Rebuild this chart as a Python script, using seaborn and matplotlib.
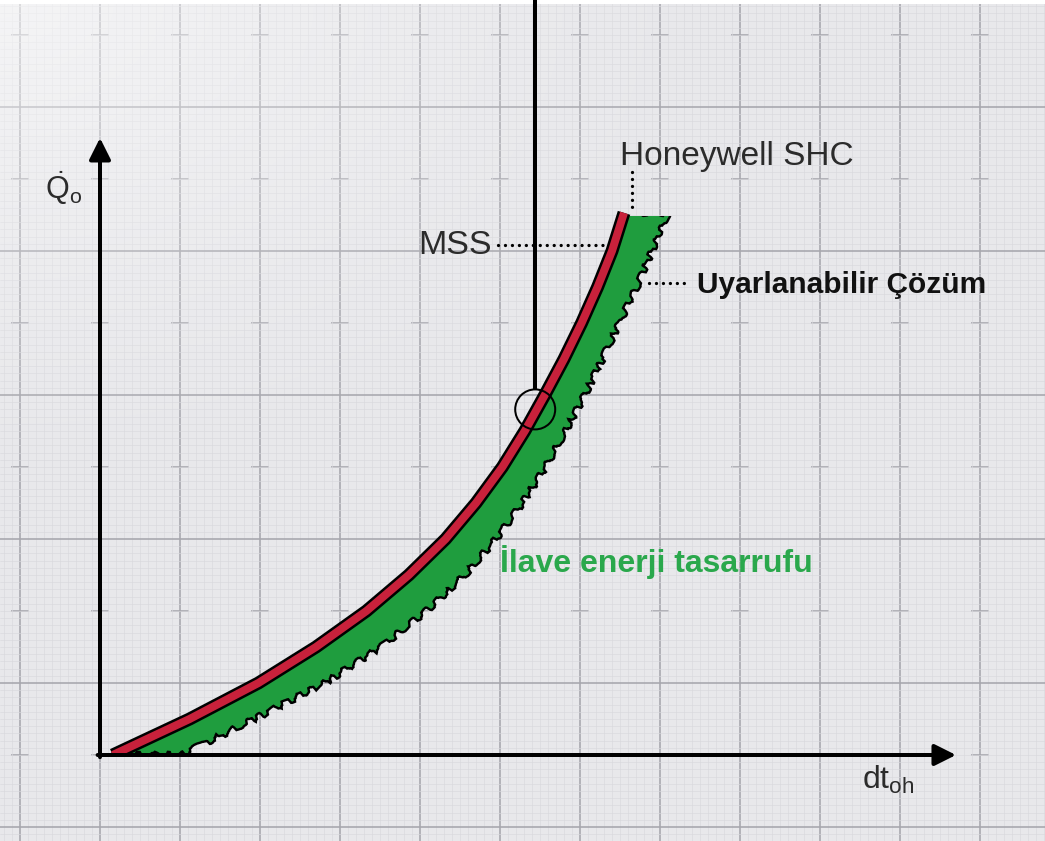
import numpy as np
import matplotlib
matplotlib.use("Agg")
import matplotlib.pyplot as plt
import seaborn as sns
from matplotlib.patches import Polygon, Rectangle, Ellipse

# ---- data (dt_oh on x, Q_o on y; one unit = one grid cell) ----
# MSS characteristic (centre of the red band)
mss_q = [0.0, 0.5, 1.0, 1.5, 2.0, 2.5, 3.0, 3.5, 4.0, 4.5, 5.0, 5.5, 6.0, 6.5, 7.0, 7.53]
mss_dt = [0.16, 1.12, 1.98, 2.70, 3.33, 3.86, 4.32, 4.70, 5.03, 5.31, 5.56, 5.80,
          6.02, 6.22, 6.40, 6.55]

# Adaptive solution (outer edge of the green band)
adapt_q = [0.0, 0.5, 1.0, 1.5, 2.0, 2.5, 3.0, 3.5, 4.0, 4.5, 5.0, 5.5, 6.0, 6.5, 7.0, 7.53]
adapt_dt = [1.01, 1.93, 2.81, 3.51, 4.08, 4.56, 4.95, 5.28, 5.57, 5.82, 6.06, 6.28,
            6.49, 6.71, 6.90, 7.10]

# operating point marked by the pointer and circle
point_dt = 5.44
point_q = 4.80

label_mss = "MSS"
label_honeywell = "Honeywell SHC"
label_adapt = "Uyarlanabilir Çözüm"
label_saving = "İlave enerji tasarrufu"
label_y = r"$\dot{\mathrm{Q}}_{\mathrm{o}}$"
label_x = r"dt$_{\mathrm{oh}}$"

# ---- styling ----
sns.set_theme(style="white")
plt.rcParams["font.family"] = ["Liberation Sans", "DejaVu Sans"]
plt.rcParams["mathtext.fontset"] = "custom"
plt.rcParams["mathtext.rm"] = "Liberation Sans"
plt.rcParams["mathtext.it"] = "Liberation Sans:italic"

PX = 0.72  # points per pixel at 100 dpi

paper = "#e8e8eb"
major_c = "#a7a7ad"
minor_c = "#d8d8dd"
red = "#c8213b"
green = "#1f9d3e"
text_green = "#2aa84c"
ink = "#2b2b2b"

fig = plt.figure(figsize=(10.45, 8.41), dpi=100)
ax = fig.add_axes([0, 0, 1, 1])
ax.set_xlim(-1.25, 11.8125)
ax.set_ylim(-86 / 72, 755 / 72)
ax.set_facecolor(paper)
for s in ax.spines.values():
    s.set_visible(False)

# graph paper: ticks drive the grid lines
ax.set_xticks(np.arange(-1, 12, 1))
ax.set_yticks(np.arange(-1, 11, 2))
ax.set_xticks(np.arange(-1.2, 11.9, 0.1), minor=True)
ax.set_yticks(np.arange(-1.1, 10.5, 0.1), minor=True)
ax.tick_params(which="both", length=0, labelbottom=False, labelleft=False)
ax.grid(which="minor", color=minor_c, linewidth=0.6 * PX, zorder=0)
ax.grid(which="major", color=major_c, linewidth=1.6 * PX, zorder=0)
ax.set_axisbelow(True)
# small crosses half-way between the horizontal major lines
cross_x = np.arange(-1, 12, 1)
for cy in np.arange(0, 11, 2):
    ax.hlines([cy] * len(cross_x), cross_x - 0.11, cross_x + 0.11,
              color=major_c, linewidth=1.6 * PX, zorder=0.5)

# soft light fade toward the upper-left corner of the sheet
gx, gy = np.meshgrid(np.linspace(0, 1, 200), np.linspace(0, 1, 200))
fade = np.clip(1 - np.hypot(gx * 1.3, (1 - gy) * 1.6), 0, 1) ** 1.5 * 0.55
overlay = np.ones((200, 200, 4))
overlay[..., 3] = fade
ax.imshow(overlay, extent=(-1.25, 11.8125, -86 / 72, 755 / 72), origin="lower",
          aspect="auto", zorder=0.8, interpolation="bilinear")
# thin white margin along the top edge of the sheet
ax.add_patch(Rectangle((0, 1 - 4 / 841), 1, 4 / 841, transform=ax.transAxes,
                       facecolor="white", edgecolor="none", zorder=0.9))

top_q = max(mss_q)
clip_band = Rectangle((-2, 0.03), 20, top_q - 0.03 - 0.05, transform=ax.transData)

# green band between the MSS curve and the adaptive edge
band = Polygon(list(zip(mss_dt, mss_q)) + list(zip(adapt_dt[::-1], adapt_q[::-1])),
               closed=True, facecolor=green, edgecolor="black",
               linewidth=2.4 * PX, zorder=3)
band.set_sketch_params(scale=3.2, length=30, randomness=8)
ax.add_patch(band)
band.set_clip_path(clip_band)

# MSS curve: black outline with red core
clip_line = Rectangle((-2, 0.0), 20, 30, transform=ax.transData)
sns.lineplot(x=mss_dt, y=mss_q, sort=False, color="black",
             linewidth=13 * PX, ax=ax, zorder=4, solid_capstyle="butt")
ax.lines[-1].set_clip_path(clip_line)
sns.lineplot(x=mss_dt, y=mss_q, sort=False, color=red,
             linewidth=8 * PX, ax=ax, zorder=5, solid_capstyle="butt")
ax.lines[-1].set_clip_path(clip_line)

# axes with arrow heads
arrow = dict(arrowstyle="-|>,head_length=1.0,head_width=0.5", color="black",
             linewidth=4 * PX, shrinkA=0, shrinkB=0, mutation_scale=13)
ax.annotate("", xy=(0, 8.57), xytext=(0, -0.03), arrowprops=arrow, zorder=6)
ax.annotate("", xy=(10.7, 0), xytext=(-0.03, 0), arrowprops=arrow, zorder=6)

# pointer line and circle at the operating point
ax.plot([point_dt, point_dt], [point_q + 20 / 72, 11], color="black",
        linewidth=4 * PX, zorder=6, solid_capstyle="butt")
ax.add_patch(Ellipse((point_dt, point_q), 40 / 80, 40 / 72, fill=False,
                     edgecolor="black", linewidth=2 * PX, zorder=6))

# dotted leaders
dots = dict(color="black", linewidth=3.3 * PX, linestyle=(0, (0.01, 2.1)),
            dash_capstyle="round", zorder=6)
ax.plot([4.97, 6.35], [7.08, 7.08], **dots)
ax.plot([6.65, 6.65], [8.10, 7.58], **dots)
ax.plot([6.86, 7.38], [6.56, 6.56], **dots)

# labels
ax.text(4.9, 7.08, label_mss, ha="right", va="center", fontsize=24.5, color=ink, zorder=7)
ax.text(6.5, 8.31, label_honeywell, ha="left", va="center", fontsize=24, color=ink, zorder=7)
ax.text(7.46, 6.53, label_adapt, ha="left", va="center", fontsize=21.5,
        fontweight="bold", color="#111111", zorder=7)
ax.text(5.0, 2.68, label_saving, ha="left", va="center", fontsize=23,
        fontweight="bold", color=text_green, zorder=7)
ax.text(-0.69, 7.87, label_y, ha="left", va="center", fontsize=22, color=ink, zorder=7)
ax.text(9.52, -0.35, label_x, ha="left", va="center", fontsize=23, color=ink, zorder=7)

fig.savefig("out.png", dpi=100, facecolor="white")
